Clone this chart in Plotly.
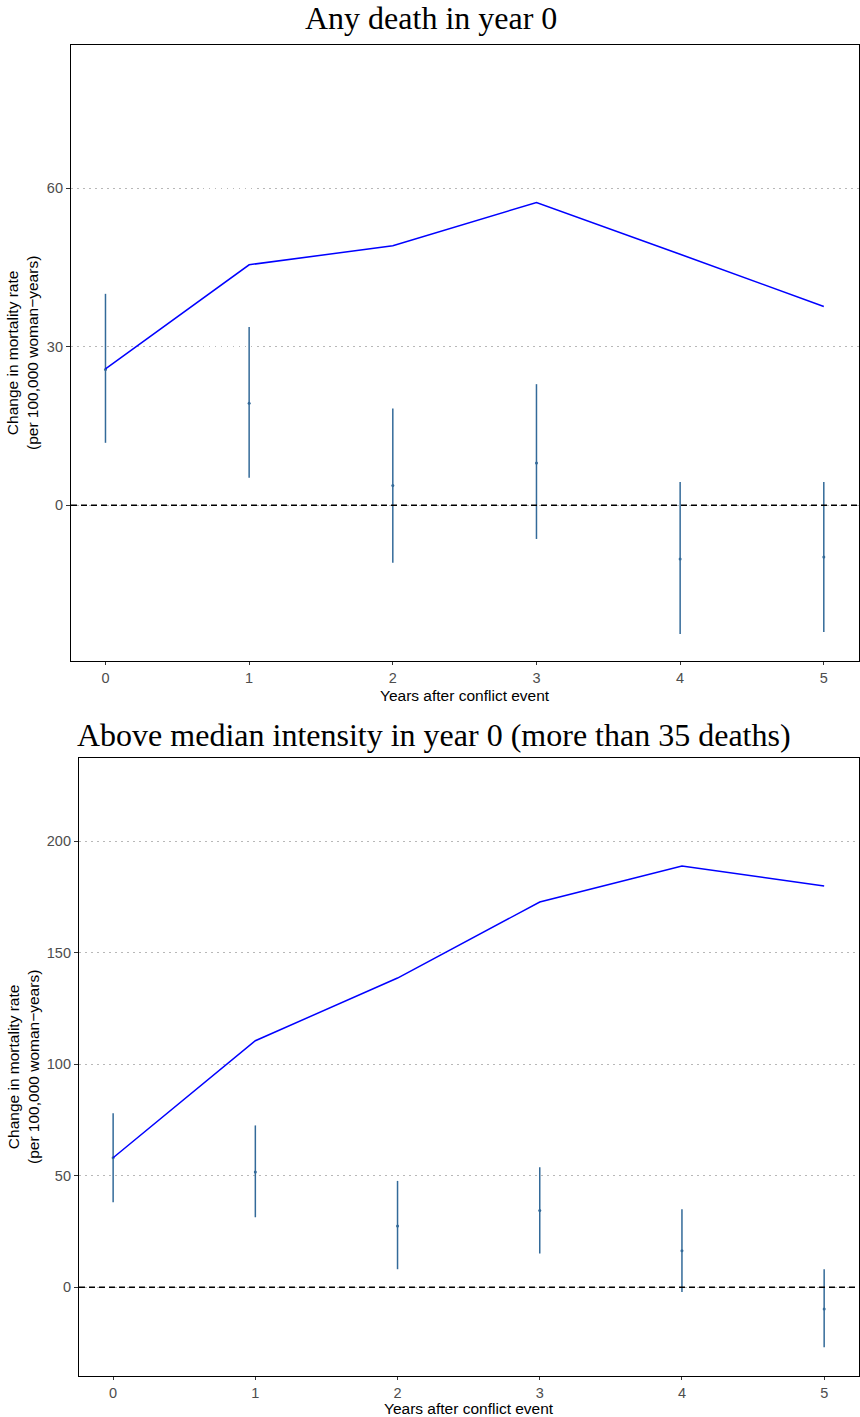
import plotly.graph_objects as go

years = [0, 1, 2, 3, 4, 5]

# Panel 1: Any death in year 0
p1_est = [25.7, 19.3, 3.7, 8.0, -10.2, -9.8]
p1_lo = [11.8, 5.2, -10.9, -6.4, -24.4, -24.0]
p1_hi = [40.0, 33.7, 18.3, 22.9, 4.4, 4.4]
p1_line = [25.8, 45.5, 49.1, 57.3, 47.5, 37.6]

# Panel 2: Above median intensity
p2_est = [58.1, 51.7, 27.5, 34.4, 16.4, -9.7]
p2_lo = [38.1, 31.4, 8.1, 15.2, -2.1, -26.9]
p2_hi = [78.0, 72.6, 47.7, 53.8, 35.0, 8.1]
p2_line = [58.1, 110.6, 138.7, 172.8, 189.0, 180.0]

titles = ["Any death in year 0", "Above median intensity in year 0 (more than 35 deaths)"]
ytitle = "Change in mortality rate<br>(per 100,000 woman\u2212years)"
xtitle = "Years after conflict event"
p1_ticks = [0, 30, 60]
p2_ticks = [0, 50, 100, 150, 200]

W, H = 860, 1417
ERR = "#336a99"
LINE = "#0000ff"

fig = go.Figure()

def add_panel(est, lo, hi, line, xa, ya):
    fig.add_trace(go.Scatter(
        x=years, y=est, mode="markers", xaxis=xa, yaxis=ya,
        marker=dict(color=ERR, size=3),
        error_y=dict(type="data", symmetric=False,
                     array=[h - e for h, e in zip(hi, est)],
                     arrayminus=[e - l for e, l in zip(est, lo)],
                     color=ERR, thickness=1.5, width=0),
        showlegend=False, hoverinfo="skip"))
    fig.add_trace(go.Scatter(
        x=years, y=line, mode="lines", xaxis=xa, yaxis=ya,
        line=dict(color=LINE, width=1.5), showlegend=False))

add_panel(p1_est, p1_lo, p1_hi, p1_line, "x", "y")
add_panel(p2_est, p2_lo, p2_hi, p2_line, "x2", "y2")

# panel geometry in px
g1 = dict(l=71, r=859, t=45, b=661)
g2 = dict(l=79, r=859, t=758, b=1376)

def xdom(g):
    return [g["l"] / W, g["r"] / W]

def ydom(g):
    return [1 - g["b"] / H, 1 - g["t"] / H]

tickfont = dict(family="Liberation Sans, Arial, sans-serif", size=14.5, color="#4d4d4d")
common_x = dict(tickmode="array", tickvals=years, ticktext=[str(v) for v in years],
                range=[-0.24, 5.245], showgrid=False, zeroline=False,
                showline=True, linecolor="black", linewidth=1.2, mirror=True,
                ticks="outside", ticklen=3, tickcolor="#333333", tickwidth=1,
                tickfont=tickfont)
common_y = dict(showgrid=True, gridcolor="#b8b8b8", griddash="1.5px,4.5px", gridwidth=1,
                zeroline=False, showline=True, linecolor="black", linewidth=1.2,
                mirror=True, ticks="outside", ticklen=4, tickcolor="#333333",
                tickwidth=1, tickfont=tickfont)

fig.update_layout(
    width=W, height=H, margin=dict(l=0, r=0, t=0, b=0),
    paper_bgcolor="white", plot_bgcolor="white",
    xaxis=dict(domain=xdom(g1), anchor="y", **common_x),
    yaxis=dict(domain=ydom(g1), anchor="x", range=[-29.5, 87.1],
               tickvals=p1_ticks, ticktext=[str(v) for v in p1_ticks], **common_y),
    xaxis2=dict(domain=xdom(g2), anchor="y2", **common_x),
    yaxis2=dict(domain=ydom(g2), anchor="x2", range=[-39.8, 237.4],
                tickvals=p2_ticks, ticktext=[str(v) for v in p2_ticks], **common_y),
)

# dashed zero lines
for xr, yr in [("x domain", "y"), ("x2 domain", "y2")]:
    fig.add_shape(type="line", xref=xr, yref=yr, x0=0, x1=1, y0=0, y1=0,
                  line=dict(color="black", width=1.5, dash="6px,4px"), layer="above")

serif = dict(family="Liberation Serif, Times New Roman, serif", size=32, color="black")
sans = dict(family="Liberation Sans, Arial, sans-serif", size=15.5, color="black")

annots = []
# panel titles
annots.append(dict(text=titles[0], x=431 / W, y=1 - 18 / H, xref="paper", yref="paper",
                   showarrow=False, font=serif, xanchor="center", yanchor="middle"))
annots.append(dict(text=titles[1], x=434 / W, y=1 - 735 / H, xref="paper", yref="paper",
                   showarrow=False, font=serif, xanchor="center", yanchor="middle"))
# x titles
for g, yy in [(g1, 695), (g2, 1408)]:
    annots.append(dict(text=xtitle, x=(g["l"] + g["r"]) / 2 / W, y=1 - yy / H,
                       xref="paper", yref="paper", showarrow=False, font=sans,
                       xanchor="center", yanchor="middle"))
# y titles
for g in [g1, g2]:
    annots.append(dict(text=ytitle, x=23 / W, y=1 - (g["t"] + g["b"]) / 2 / H,
                       xref="paper", yref="paper", showarrow=False, font=sans,
                       textangle=-90, xanchor="center", yanchor="middle"))
fig.update_layout(annotations=annots)

fig.write_html("out.html", config={"displayModeBar": False},
               post_script="document.body.style.margin='0px';document.body.style.overflow='hidden';")
